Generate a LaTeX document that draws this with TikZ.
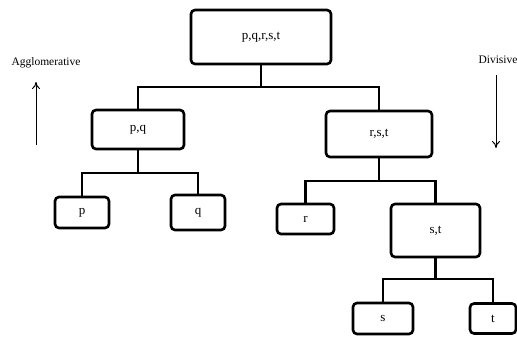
\documentclass[tikz,border=0pt]{standalone}
\usepackage{fontspec}
\setmainfont{Liberation Serif}
\usetikzlibrary{arrows.meta}
\begin{document}
\begin{tikzpicture}[x=1pt,y=1pt,
  box/.style={draw, line width=2.6pt, rounded corners=4pt, inner sep=0pt, font=\fontsize{13}{15}\selectfont},
  link/.style={line width=2.3pt},
  side/.style={font=\fontsize{11.5}{13}\selectfont},
  dir/.style={-{To[length=7pt,width=8pt]}, line width=1pt}]
\useasboundingbox (0,0) rectangle (517,341);
\node[box, minimum width=140pt, minimum height=54pt] (top) at (261,304) {p,q,r,s,t};
\node[box, minimum width=92pt, minimum height=39pt] (pq) at (138,211.5) {p,q};
\node[box, minimum width=106pt, minimum height=46pt] (rst) at (379,207) {r,s,t};
\node[box, minimum width=54pt, minimum height=31pt] (p) at (82,128.5) {p};
\node[box, minimum width=54pt, minimum height=35pt] (q) at (198,128.5) {q};
\node[box, minimum width=57pt, minimum height=30pt] (r) at (305.5,122) {r};
\node[box, minimum width=89pt, minimum height=53pt] (st) at (435.5,110.5) {s,t};
\node[box, minimum width=60pt, minimum height=31pt] (s) at (383,22.5) {s};
\node[box, minimum width=46pt, minimum height=30pt] (t) at (493,22.5) {t};
\coordinate (h1) at (0,254);
\coordinate (h2) at (0,168);
\coordinate (h3) at (0,160);
\coordinate (h4) at (0,62);
\draw[link] (top.south) -- (top.south |- h1);
\draw[link] (pq.north) |- (top.south |- h1) -| (rst.north);
\draw[link] (pq.south) -- (pq.south |- h2);
\draw[link] (p.north) |- (pq.south |- h2) -| (q.north);
\draw[link] (rst.south) -- (rst.south |- h3);
\draw[link] (r.north) |- (rst.south |- h3) -| (st.north);
\draw[link] (st.south) -- (st.south |- h4);
\draw[link] (s.north) |- (st.south |- h4) -| (t.north);
\node[side, anchor=west] (agg) at (8,278) {Agglomerative};
\node[side, anchor=west] (div) at (475,281) {Divisive};
\coordinate (a1) at (36,196);
\coordinate (a2) at (36,259);
\coordinate (d1) at (496,266);
\coordinate (d2) at (496,193);
\draw[dir] (a1) -- (a2);
\draw[dir] (d1) -- (d2);
\end{tikzpicture}
\end{document}
